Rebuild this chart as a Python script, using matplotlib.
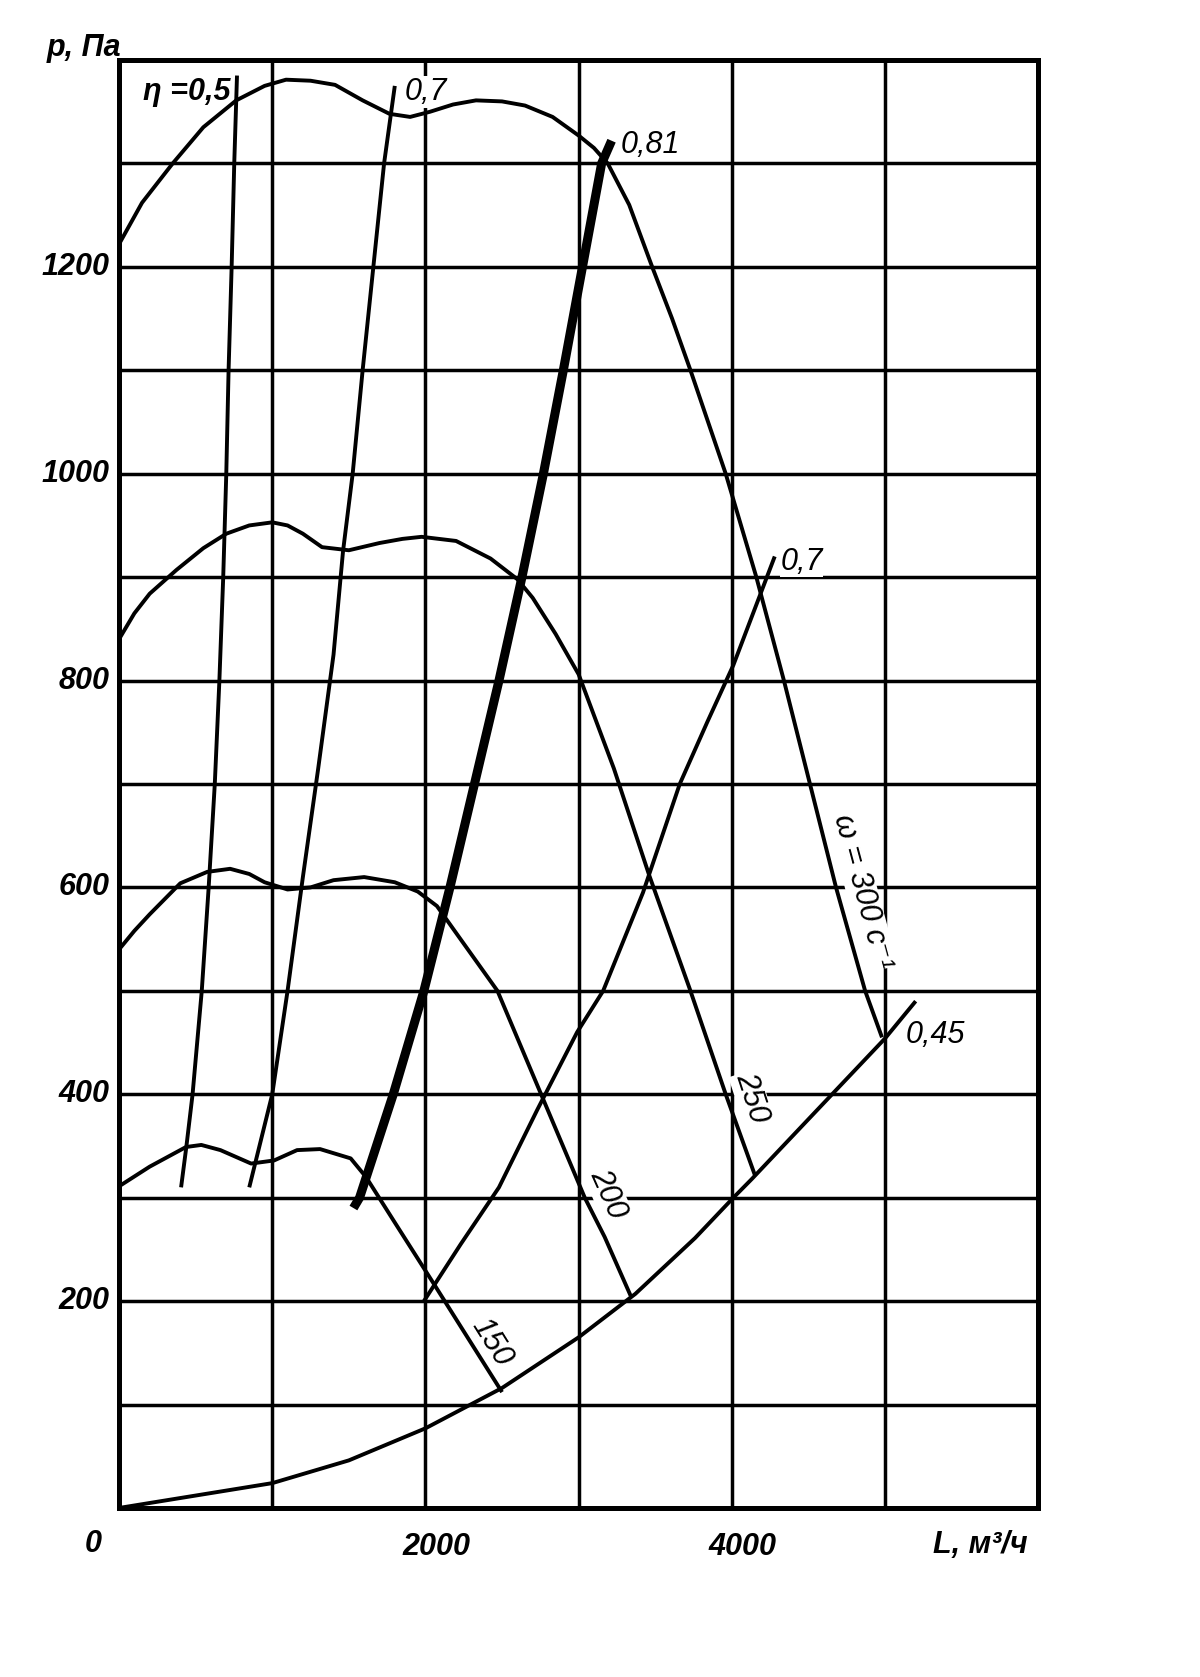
import matplotlib
matplotlib.use("Agg")
import matplotlib.pyplot as plt

# fan characteristic, values (L in m3/h, p in Pa)
# pressure curves for rotor speeds 150, 200, 250, 300 1/s
L_150 = [0, 200, 437, 537, 662, 862, 1012, 1162, 1312, 1512, 1612, 1800, 2062, 2300, 2500]
p_150 = [311, 330, 349, 351, 346, 333, 336, 346, 347, 338, 320, 276, 215, 159, 112]

L_200 = [0, 100, 200, 400, 575, 725, 850, 950, 1100, 1250, 1400, 1600, 1800, 1950, 2075,
         2200, 2470, 2755, 3040, 3170, 3340]
p_200 = [540, 558, 574, 604, 615, 618, 613, 605, 598, 600, 607, 610, 605, 596, 582,
         556, 500, 400, 300, 262, 205]

L_250 = [0, 100, 200, 375, 550, 700, 850, 1000, 1100, 1200, 1325, 1500, 1700, 1850, 1975,
         2200, 2425, 2600, 2700, 2850, 3000, 3230, 3460, 3725, 3960, 4150]
p_250 = [840, 865, 884, 907, 928, 942, 950, 953, 950, 942, 929, 926, 933, 937, 939,
         935, 918, 898, 880, 845, 806, 715, 612, 502, 400, 322]

L_300 = [0, 150, 350, 550, 765, 950, 1090, 1250, 1410, 1590, 1765, 1900, 2030, 2180, 2330,
         2500, 2650, 2830, 3000, 3100, 3190, 3330, 3480, 3610, 3730, 3960, 4160, 4340, 4510,
         4680, 4870, 4980]
p_300 = [1222, 1262, 1300, 1335, 1361, 1375, 1381, 1380, 1376, 1361, 1348, 1345, 1350, 1357, 1361,
         1360, 1356, 1345, 1327, 1315, 1300, 1260, 1200, 1150, 1100, 1000, 900, 800, 700,
         600, 500, 455]

# efficiency lines
L_eta05 = [405, 440, 480, 540, 585, 625, 655, 680, 700, 715, 735, 752, 770]
p_eta05 = [310, 350, 400, 500, 600, 700, 800, 900, 1000, 1100, 1200, 1300, 1385]

L_eta07a = [850, 925, 1000, 1100, 1200, 1300, 1400, 1462, 1525, 1590, 1660, 1730, 1800]
p_eta07a = [310, 355, 400, 500, 610, 715, 825, 925, 1000, 1100, 1200, 1300, 1375]

L_eta081 = [1530, 1570, 1790, 1990, 2160, 2320, 2480, 2630, 2770, 2900, 3025, 3150, 3215]
p_eta081 = [290, 300, 400, 500, 600, 700, 800, 900, 1000, 1100, 1200, 1300, 1322]

L_eta07b = [1990, 2230, 2480, 2730, 2990, 3160, 3420, 3660, 3840, 4010, 4190, 4280]
p_eta07b = [200, 255, 310, 385, 460, 500, 595, 700, 760, 815, 885, 920]

L_eta045 = [0, 500, 1000, 1500, 2000, 2500, 3000, 3370, 3760, 4010, 4130, 4520, 5000, 5200]
p_eta045 = [0, 12, 24, 46, 77, 116, 165, 207, 261, 300, 318, 379, 454, 490]

x_grid = [1000, 2000, 3000, 4000, 5000]
y_grid = [100, 200, 300, 400, 500, 600, 700, 800, 900, 1000, 1100, 1200, 1300]
x_labels = [2000, 4000]
y_labels = [200, 400, 600, 800, 1000, 1200]

fonts = ['Liberation Sans Narrow', 'Liberation Sans', 'DejaVu Sans']
plt.rcParams['font.family'] = fonts

fig = plt.figure(figsize=(12, 16.77), dpi=100)
ax = fig.add_axes([0.0992, 0.1008, 0.766, 0.8634])
ax.set_xlim(0, 6000)
ax.set_ylim(0, 1400)
for s in ax.spines.values():
    s.set_linewidth(3.6)
ax.set_xticks([])
ax.set_yticks([])

for x in x_grid:
    ax.axvline(x, color='black', lw=2.5, zorder=1)
for y in y_grid:
    ax.axhline(y, color='black', lw=2.5, zorder=1)

thin = dict(color='black', lw=2.8, zorder=3, solid_capstyle='butt', solid_joinstyle='round')
for L, p in [(L_150, p_150), (L_200, p_200), (L_250, p_250), (L_300, p_300),
             (L_eta05, p_eta05), (L_eta07a, p_eta07a), (L_eta07b, p_eta07b),
             (L_eta045, p_eta045)]:
    ax.plot(L, p, **thin)
ax.plot(L_eta081, p_eta081, color='black', lw=6.5, zorder=4, solid_capstyle='butt',
        solid_joinstyle='round')

tick_font = dict(fontsize=22, fontweight='bold', style='italic', color='black')
for v in y_labels:
    ax.text(-60, v, str(v), ha='right', va='center', **tick_font)
for v in x_labels:
    ax.text(v + 70, -38, str(v), ha='center', va='center', **tick_font)
ax.text(-170, -35, '0', ha='center', va='center', **tick_font)
ax.text(-230, 1412, 'p, Па', ha='center', va='center', **tick_font)
ax.text(5620, -36, 'L, м³/ч', ha='center', va='center', **tick_font)

lab = dict(fontsize=22, style='italic', color='black', zorder=2,
           bbox=dict(facecolor='white', edgecolor='none', pad=0.5))
ax.text(440, 1369, 'η =0,5', ha='center', va='center', fontweight='bold', **lab)
ax.text(2000, 1369, '0,7', ha='center', va='center', **lab)
ax.text(3470, 1318, '0,81', ha='center', va='center', **lab)
ax.text(4455, 915, '0,7', ha='center', va='center', **lab)
ax.text(5330, 457, '0,45', ha='center', va='center', **lab)
ax.text(4850, 596, 'ω = 300 с⁻¹', ha='center', va='center', rotation=-75, **lab)
ax.text(4127, 397, '250', ha='center', va='center', rotation=-72, **lab)
ax.text(3190, 304, '200', ha='center', va='center', rotation=-66, **lab)
ax.text(2434, 160, '150', ha='center', va='center', rotation=-58, **lab)

fig.savefig('out.png', dpi=100, facecolor='white')
